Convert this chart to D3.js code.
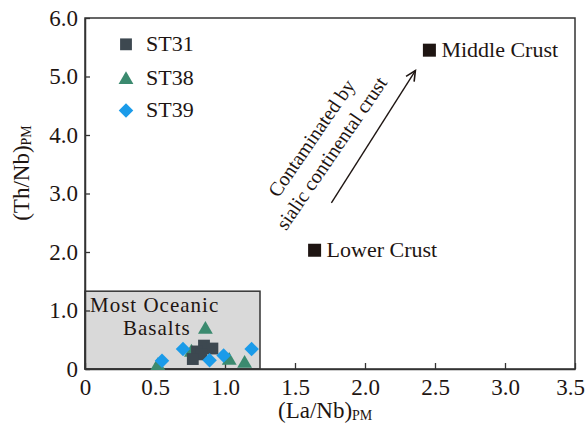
<!DOCTYPE html>
<html><head><meta charset="utf-8">
<script src="https://cdn.jsdelivr.net/npm/d3@7"></script>
<style>
body{margin:0;background:#fff;}
</style></head>
<body><svg id="c" width="588" height="428"></svg>
<script>
// ---- data ----
const xTicks = [0, 0.5, 1.0, 1.5, 2.0, 2.5, 3.0, 3.5];
const xTickLabels = ["0", "0.5", "1.0", "1.5", "2.0", "2.5", "3.0", "3.5"];
const yTicks = [0, 1, 2, 3, 4, 5, 6];
const yTickLabels = ["0", "1.0", "2.0", "3.0", "4.0", "5.0", "6.0"];
const seriesNames = ["ST31", "ST38", "ST39"];
const st31 = [[0.85, 0.40], [0.91, 0.35], [0.80, 0.30], [0.83, 0.25], [0.77, 0.17]];
const st38 = [[0.86, 0.70], [0.76, 0.31], [1.03, 0.17], [1.14, 0.12], [0.52, 0.08]];
const st39 = [[0.70, 0.34], [0.55, 0.14], [0.89, 0.15], [0.99, 0.23], [1.19, 0.34]];
const crustNames = ["Middle Crust", "Lower Crust"];
const crustX = [2.46, 1.64];
const crustY = [5.45, 2.03];
const oceanicBoxX = [0, 1.25];
const oceanicBoxY = [0, 1.33];
const arrowFrom = [1.76, 2.84];
const arrowTo = [2.36, 5.10];

// ---- layout ----
const FONT = '"Liberation Serif","Times New Roman",serif';
const svg = d3.select("#c");
const x = d3.scaleLinear().domain([0, 3.5]).range([85, 575]);
const y = d3.scaleLinear().domain([0, 6]).range([369, 18]);
const colors = {ST31: "#3d4850", ST38: "#3b8a6f", ST39: "#1b9be9"};
const ink = "#1e1512";

function txt(sel) { return sel.style("font-family", FONT).attr("fill", ink); }

// oceanic basalt box
svg.append("rect")
  .attr("x", x(oceanicBoxX[0])).attr("y", y(oceanicBoxY[1]))
  .attr("width", x(oceanicBoxX[1]) - x(oceanicBoxX[0]))
  .attr("height", y(oceanicBoxY[0]) - y(oceanicBoxY[1]))
  .attr("fill", "#d9d9d9").attr("stroke", "#333").attr("stroke-width", 1.5);
txt(svg.append("text")).attr("x", 90).attr("y", 312)
  .attr("font-size", 21).attr("letter-spacing", 1).text("Most Oceanic");
txt(svg.append("text")).attr("x", 123).attr("y", 335)
  .attr("font-size", 21).attr("letter-spacing", 1).text("Basalts");

// frame
svg.append("rect").attr("x", x(0)).attr("y", y(6))
  .attr("width", x(3.5) - x(0)).attr("height", y(0) - y(6))
  .attr("fill", "none").attr("stroke", "#333").attr("stroke-width", 1.5);

// axes
const xAxis = d3.axisBottom(x).tickValues(xTicks)
  .tickFormat((d, i) => xTickLabels[i]).tickSizeInner(-6).tickSizeOuter(0).tickPadding(14);
const gx = svg.append("g").attr("transform", `translate(0,${y(0)})`).call(xAxis);
const yAxis = d3.axisLeft(y).tickValues(yTicks)
  .tickFormat((d, i) => yTickLabels[i]).tickSizeInner(-5).tickSizeOuter(0).tickPadding(7);
const gy = svg.append("g").attr("transform", `translate(${x(0)},0)`).call(yAxis);
[gx, gy].forEach(g => {
  g.attr("font-family", null).attr("font-size", null);
  g.select(".domain").attr("stroke", "#333").attr("stroke-width", 1.5);
  g.selectAll(".tick line").attr("stroke", "#333").attr("stroke-width", 1.3);
  txt(g.selectAll(".tick text")).attr("font-size", 23);
});
gx.selectAll(".tick text").attr("dy", "0.5em");
gx.selectAll(".tick text").filter((d, i) => i === xTicks.length - 1).attr("dx", -5);

// axis titles
const yl = txt(svg.append("text")).attr("transform", `translate(29,173) rotate(-90)`)
  .attr("text-anchor", "middle").attr("font-size", 23);
yl.append("tspan").text("(Th/Nb)");
yl.append("tspan").attr("font-size", 14).attr("dy", 2).text("PM");
const xl = txt(svg.append("text")).attr("x", 278).attr("y", 418)
  .attr("font-size", 23);
xl.append("tspan").text("(La/Nb)");
xl.append("tspan").attr("font-size", 14).attr("dy", 2).text("PM");

// symbols
const symDefs = {
  ST31: {type: d3.symbolSquare, size: 140, rot: false},
  ST38: {type: d3.symbolTriangle, size: 95, rot: false},
  ST39: {type: d3.symbolSquare, size: 105, rot: true}
};
const seriesData = {ST31: st31, ST38: st38, ST39: st39};
["ST38", "ST31", "ST39"].forEach(name => {
  const s = symDefs[name];
  svg.append("g").selectAll("path").data(seriesData[name]).join("path")
    .attr("d", d3.symbol().type(s.type).size(s.size)())
    .attr("fill", colors[name])
    .attr("transform", d => `translate(${x(d[0])},${y(d[1]) + (name === "ST38" ? 1.5 : 0)})${s.rot ? " rotate(45)" : ""}`);
});

// legend
const legY = [5.55, 4.97, 4.42];
seriesNames.forEach((name, i) => {
  const s = symDefs[name];
  const cy = y(legY[i]);
  svg.append("path").attr("d", d3.symbol().type(s.type).size(s.size)())
    .attr("fill", colors[name])
    .attr("transform", `translate(126,${cy + (name === "ST38" ? 1.5 : 0)})${s.rot ? " rotate(45)" : ""}`);
  txt(svg.append("text")).attr("x", 146).attr("y", cy + 7).attr("font-size", 22).text(name);
});

// crust reference points
crustNames.forEach((name, i) => {
  svg.append("rect").attr("x", x(crustX[i]) - 6.5).attr("y", y(crustY[i]) - 6.5)
    .attr("width", 13).attr("height", 13).attr("fill", ink);
  txt(svg.append("text")).attr("x", x(crustX[i]) + 12).attr("y", y(crustY[i]) + 7)
    .attr("font-size", 22).text(name);
});

// arrow
const ax1 = x(arrowFrom[0]), ay1 = y(arrowFrom[1]), ax2 = x(arrowTo[0]), ay2 = y(arrowTo[1]);
svg.append("line").attr("x1", ax1).attr("y1", ay1).attr("x2", ax2).attr("y2", ay2)
  .attr("stroke", ink).attr("stroke-width", 1.4);
const ang = Math.atan2(ay2 - ay1, ax2 - ax1);
const hl = 11, ha = 0.45;
svg.append("path")
  .attr("d", `M${ax2 - hl * Math.cos(ang - ha)},${ay2 - hl * Math.sin(ang - ha)} L${ax2},${ay2} L${ax2 - hl * Math.cos(ang + ha)},${ay2 - hl * Math.sin(ang + ha)}`)
  .attr("fill", "none").attr("stroke", ink).attr("stroke-width", 1.6);
const deg = ang * 180 / Math.PI;
txt(svg.append("text")).attr("transform", `translate(317,142) rotate(${deg + 2})`)
  .attr("text-anchor", "middle").attr("font-size", 20).text("Contaminated by");
txt(svg.append("text")).attr("transform", `translate(337,157) rotate(${deg + 2})`)
  .attr("text-anchor", "middle").attr("font-size", 20).text("sialic continental crust");
</script></body></html>
